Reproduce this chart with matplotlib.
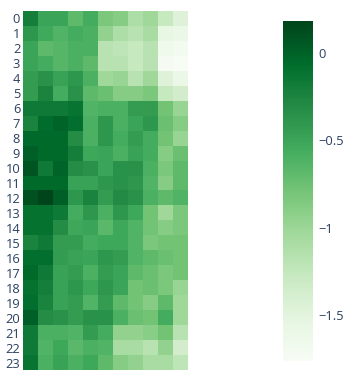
import numpy as np
import matplotlib
matplotlib.use("Agg")
import matplotlib.pyplot as plt

# row labels 0..23, 11 columns per row
rows = [str(i) for i in range(24)]

r00 = [-0.21, -0.50, -0.50, -0.69, -0.56, -0.83, -0.89, -1.12, -1.02, -1.28, -1.47]
r01 = [-0.40, -0.54, -0.63, -0.56, -0.60, -0.95, -1.12, -1.18, -1.08, -1.57, -1.60]
r02 = [-0.50, -0.69, -0.65, -0.60, -0.60, -1.18, -1.22, -1.28, -1.18, -1.66, -1.70]
r03 = [-0.50, -0.56, -0.65, -0.60, -0.69, -1.18, -1.18, -1.28, -1.18, -1.74, -1.76]
r04 = [-0.44, -0.36, -0.48, -0.40, -0.60, -1.02, -0.98, -1.18, -1.02, -1.47, -1.60]
r05 = [-0.44, -0.25, -0.56, -0.36, -0.69, -0.75, -0.89, -0.89, -0.83, -1.28, -1.37]
r06 = [-0.17, -0.17, -0.17, -0.13, -0.63, -0.60, -0.60, -0.44, -0.44, -0.79, -0.98]
r07 = [-0.25, -0.07, -0.01, -0.09, -0.60, -0.40, -0.60, -0.50, -0.40, -0.75, -0.89]
r08 = [-0.05, -0.05, -0.05, -0.32, -0.60, -0.40, -0.56, -0.44, -0.56, -0.79, -0.98]
r09 = [0.02, -0.05, -0.05, -0.21, -0.52, -0.50, -0.60, -0.48, -0.56, -0.89, -0.75]
r10 = [0.08, -0.17, -0.01, -0.32, -0.36, -0.50, -0.36, -0.36, -0.60, -0.83, -0.69]
r11 = [-0.05, -0.05, -0.05, -0.48, -0.48, -0.40, -0.36, -0.40, -0.63, -0.89, -0.69]
r12 = [0.10, 0.18, 0.02, -0.40, -0.25, -0.44, -0.30, -0.36, -0.60, -0.69, -0.63]
r13 = [-0.11, -0.11, -0.17, -0.56, -0.40, -0.60, -0.40, -0.52, -0.79, -1.02, -0.83]
r14 = [-0.11, -0.11, -0.32, -0.52, -0.50, -0.67, -0.52, -0.63, -0.79, -0.89, -0.83]
r15 = [-0.25, -0.17, -0.44, -0.44, -0.56, -0.52, -0.52, -0.63, -0.83, -0.79, -0.79]
r16 = [-0.09, -0.09, -0.44, -0.48, -0.50, -0.40, -0.44, -0.63, -0.69, -0.75, -0.79]
r17 = [-0.05, -0.17, -0.48, -0.44, -0.60, -0.44, -0.50, -0.69, -0.75, -0.83, -0.79]
r18 = [-0.11, -0.21, -0.48, -0.40, -0.52, -0.40, -0.50, -0.79, -0.75, -0.83, -0.98]
r19 = [-0.09, -0.25, -0.48, -0.44, -0.63, -0.44, -0.69, -0.79, -0.89, -0.69, -1.02]
r20 = [0.02, -0.32, -0.36, -0.44, -0.36, -0.36, -0.60, -0.75, -0.79, -0.56, -1.02]
r21 = [-0.17, -0.60, -0.60, -0.63, -0.44, -0.56, -0.95, -0.95, -0.91, -0.79, -1.18]
r22 = [-0.17, -0.63, -0.52, -0.67, -0.60, -0.63, -1.08, -1.08, -1.18, -0.95, -1.37]
r23 = [-0.13, -0.60, -0.48, -0.60, -0.52, -0.69, -0.89, -0.95, -1.08, -1.08, -1.22]

z = np.array([r00, r01, r02, r03, r04, r05, r06, r07, r08, r09, r10, r11,
              r12, r13, r14, r15, r16, r17, r18, r19, r20, r21, r22, r23])

cb_ticks = [0, -0.5, -1, -1.5]
txt_col = "#2a3f5f"

plt.rcParams['font.family'] = ['Open Sans', 'DejaVu Sans']

fig = plt.figure(figsize=(3.58, 3.76), dpi=100)
ax = fig.add_axes([23 / 358, 6 / 376, 165 / 358, 359 / 376])
cax = fig.add_axes([283 / 358, 15 / 376, 30 / 358, 340 / 376])

im = ax.imshow(z, cmap="Greens", vmin=-1.76, vmax=0.18, aspect="auto",
               interpolation="nearest", origin="upper")
ax.set_xticks([])
ax.set_yticks(range(len(rows)))
ax.set_yticklabels(rows, fontsize=9.3, color=txt_col)
ax.tick_params(axis="y", length=0, pad=2)
for s in ax.spines.values():
    s.set_visible(False)

cb = fig.colorbar(im, cax=cax, ticks=cb_ticks)
cb.outline.set_visible(False)
cb.ax.set_yticklabels(["0", "\u22120.5", "\u22121", "\u22121.5"], fontsize=9.3, color=txt_col)
cb.ax.tick_params(length=0, pad=4)

fig.savefig("out.png", dpi=100)
